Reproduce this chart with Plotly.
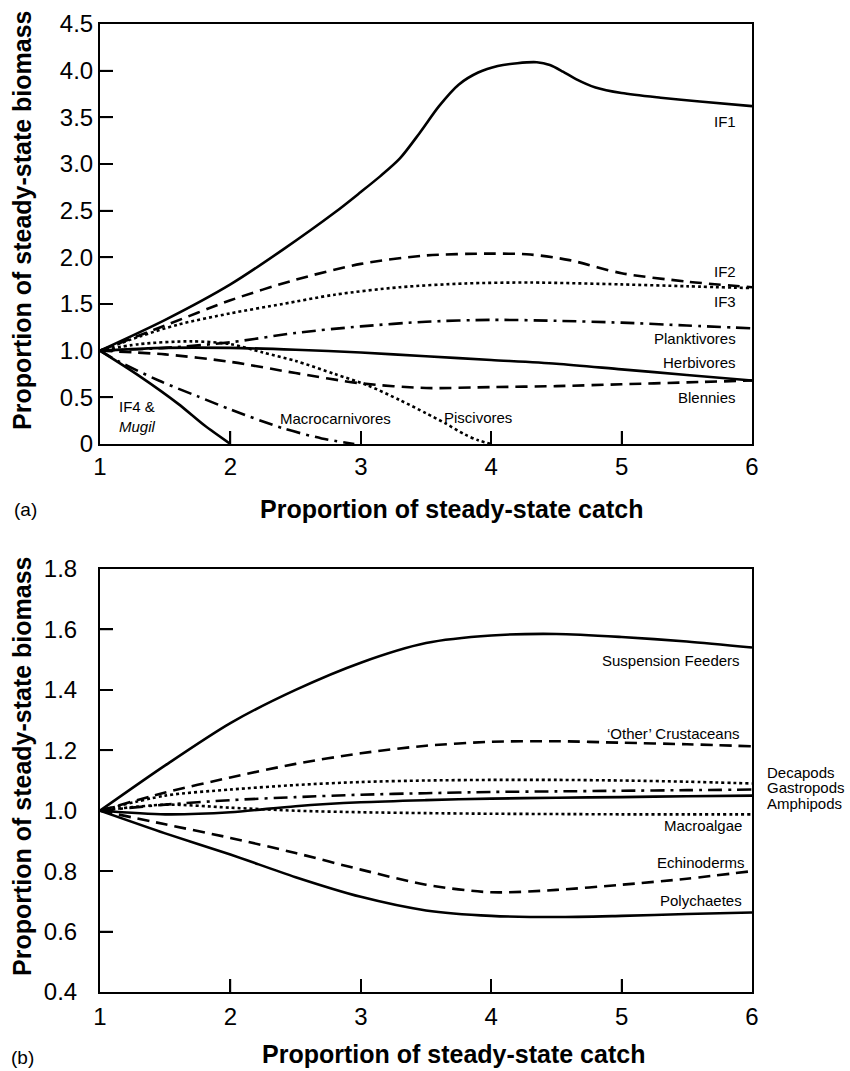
import plotly.graph_objects as go

W, H = 850, 1071

# ---------------- Panel (a) data ----------------
IF1_x = [1, 1.5, 2, 2.4, 2.8, 3.0, 3.15, 3.3, 3.45, 3.6, 3.75, 3.9, 4.05, 4.2, 4.35, 4.45, 4.55, 4.65, 4.8, 5.0, 5.3, 5.6, 6.0]
IF1_y = [1.0, 1.33, 1.71, 2.08, 2.48, 2.70, 2.87, 3.06, 3.33, 3.62, 3.85, 3.98, 4.05, 4.08, 4.09, 4.06, 3.99, 3.91, 3.82, 3.76, 3.71, 3.67, 3.62]

IF2_x = [1, 1.5, 2, 2.5, 3, 3.5, 4, 4.3, 4.6, 5.0, 5.5, 6.0]
IF2_y = [1.0, 1.27, 1.54, 1.76, 1.93, 2.02, 2.04, 2.03, 1.97, 1.83, 1.74, 1.68]

IF3_x = [1, 1.3, 1.6, 2, 2.4, 2.8, 3.3, 3.8, 4.3, 5.0, 5.5, 6.0]
IF3_y = [1.0, 1.15, 1.28, 1.4, 1.5, 1.6, 1.68, 1.72, 1.73, 1.71, 1.69, 1.67]

Plank_x = [1, 1.5, 2, 2.5, 3, 3.5, 4, 4.5, 5, 5.5, 6]
Plank_y = [1.0, 1.03, 1.09, 1.19, 1.26, 1.31, 1.33, 1.32, 1.30, 1.27, 1.24]

Herb_x = [1, 1.5, 2, 2.5, 3, 3.5, 4, 4.5, 5, 5.5, 6]
Herb_y = [1.0, 1.03, 1.03, 1.01, 0.98, 0.94, 0.9, 0.86, 0.8, 0.74, 0.68]

Blen_x = [1, 1.5, 2, 2.5, 3, 3.5, 4, 4.5, 5, 5.5, 6]
Blen_y = [1.0, 0.96, 0.88, 0.76, 0.65, 0.6, 0.61, 0.62, 0.64, 0.66, 0.68]

Pisc_x = [1, 1.3, 1.7, 2.0, 2.25, 2.5, 2.8, 3.05, 3.3, 3.5, 3.65, 3.8, 3.9, 4.0]
Pisc_y = [1.0, 1.07, 1.1, 1.07, 0.98, 0.89, 0.75, 0.63, 0.47, 0.33, 0.22, 0.1, 0.04, 0.0]

Macro_x = [1, 1.15, 1.45, 1.75, 2.0, 2.4, 2.7, 2.95]
Macro_y = [1.0, 0.88, 0.68, 0.51, 0.37, 0.17, 0.06, 0.0]

IF4_x = [1, 1.3, 1.6, 1.8, 2.0]
IF4_y = [1.0, 0.73, 0.43, 0.2, 0.0]

# ---------------- Panel (b) data ----------------
catch_b = [1, 1.5, 2, 2.5, 3, 3.5, 4, 4.5, 5, 5.5, 6]
SuspF = [1.0, 1.15, 1.29, 1.40, 1.49, 1.555, 1.58, 1.585, 1.575, 1.56, 1.54]
OthCr = [1.0, 1.06, 1.11, 1.155, 1.19, 1.215, 1.228, 1.23, 1.225, 1.22, 1.213]
Decap = [1.0, 1.05, 1.07, 1.085, 1.095, 1.1, 1.102, 1.102, 1.1, 1.096, 1.09]
Gastr = [1.0, 1.02, 1.035, 1.045, 1.053, 1.058, 1.062, 1.064, 1.066, 1.068, 1.07]
Amphi = [1.0, 0.988, 0.995, 1.015, 1.028, 1.035, 1.04, 1.043, 1.045, 1.048, 1.05]
Macroalg = [1.0, 1.02, 1.01, 1.0, 0.995, 0.992, 0.99, 0.989, 0.988, 0.988, 0.988]
Echin = [1.0, 0.955, 0.91, 0.86, 0.805, 0.755, 0.73, 0.738, 0.755, 0.775, 0.80]
Polych = [1.0, 0.925, 0.855, 0.78, 0.715, 0.67, 0.652, 0.648, 0.652, 0.658, 0.663]

x_ticks = [1, 2, 3, 4, 5, 6]
x_ticktext = ["1", "2", "3", "4", "5", "6"]
ya_ticks = [0, 0.5, 1.0, 1.5, 2.0, 2.5, 3.0, 3.5, 4.0, 4.5]
ya_ticktext = ["0", "0.5", "1.0", "1.5", "2.0", "2.5", "3.0", "3.5", "4.0", "4.5"]
yb_ticks = [0.4, 0.6, 0.8, 1.0, 1.2, 1.4, 1.6, 1.8]
yb_ticktext = ["0.4", "0.6", "0.8", "1.0", "1.2", "1.4", "1.6", "1.8"]

FONT = "Liberation Sans, Arial, sans-serif"
LW = 2.6
DASH = "12px,7px"
DOT = "3px,3px"
DASHDOT = "14px,6px,3px,6px"
TICKLEN = 13
TICKW = 1.6

fig = go.Figure()

def add(x, y, dash, xa, ya):
    fig.add_trace(go.Scatter(x=x, y=y, mode="lines", xaxis=xa, yaxis=ya,
                             line=dict(color="black", width=LW, dash=dash,
                                       shape="spline", smoothing=0.8),
                             showlegend=False, hoverinfo="skip"))

# panel (a)
add(IF1_x, IF1_y, "solid", "x", "y")
add(IF2_x, IF2_y, DASH, "x", "y")
add(IF3_x, IF3_y, DOT, "x", "y")
add(Plank_x, Plank_y, DASHDOT, "x", "y")
add(Herb_x, Herb_y, "solid", "x", "y")
add(Blen_x, Blen_y, DASH, "x", "y")
add(Pisc_x, Pisc_y, DOT, "x", "y")
add(Macro_x, Macro_y, DASHDOT, "x", "y")
add(IF4_x, IF4_y, "solid", "x", "y")

# panel (b)
add(catch_b, SuspF, "solid", "x2", "y2")
add(catch_b, OthCr, DASH, "x2", "y2")
add(catch_b, Decap, DOT, "x2", "y2")
add(catch_b, Gastr, DASHDOT, "x2", "y2")
add(catch_b, Amphi, "solid", "x2", "y2")
add(catch_b, Macroalg, DOT, "x2", "y2")
add(catch_b, Echin, DASH, "x2", "y2")
add(catch_b, Polych, "solid", "x2", "y2")

xdom = [100 / W, 752 / W]
ya_dom = [1 - 444 / H, 1 - 24 / H]
yb_dom = [1 - 992 / H, 1 - 569 / H]
xrange = [1, 6]
ya_range = [0, 4.5]
yb_range = [0.4, 1.8]

axis_common = dict(showline=True, linecolor="black", linewidth=2, mirror=True,
                   ticks="inside", ticklen=TICKLEN, tickwidth=TICKW, tickcolor="black",
                   showgrid=False, zeroline=False, automargin=True,
                   tickfont=dict(family=FONT, size=24, color="black"))

fig.update_layout(
    width=W, height=H, margin=dict(l=0, r=0, t=0, b=0, autoexpand=False),
    paper_bgcolor="white", plot_bgcolor="white",
    xaxis=dict(domain=xdom, range=xrange, anchor="y", tickvals=x_ticks,
               ticktext=x_ticktext, ticklabelstandoff=0, **axis_common),
    yaxis=dict(domain=ya_dom, range=ya_range, anchor="x", tickvals=ya_ticks,
               ticktext=ya_ticktext, ticklabelstandoff=0, **axis_common),
    xaxis2=dict(domain=xdom, range=xrange, anchor="y2", tickvals=x_ticks,
                ticktext=x_ticktext, ticklabelstandoff=2, **axis_common),
    yaxis2=dict(domain=yb_dom, range=yb_range, anchor="x2", tickvals=yb_ticks,
                ticktext=yb_ticktext, ticklabelstandoff=16, **axis_common),
)

# inside tick marks (drawn from the tick arrays, pixel length) to guarantee visibility
tick_line = dict(color="black", width=TICKW)
for xa, ya, yr, yt in (("x", "y", ya_range, ya_ticks), ("x2", "y2", yb_range, yb_ticks)):
    for v in x_ticks[1:-1]:
        fig.add_shape(type="line", xref=xa, yref=ya, ysizemode="pixel", yanchor=yr[0],
                      x0=v, x1=v, y0=0, y1=TICKLEN, line=tick_line, layer="above")
    for v in yt[1:-1]:
        fig.add_shape(type="line", xref=xa, yref=ya, xsizemode="pixel", xanchor=xrange[0],
                      x0=0, x1=TICKLEN, y0=v, y1=v, line=tick_line, layer="above")

def ann(text, px, py, xanchor="left", size=15, bold=False, angle=0):
    if bold:
        text = "<b>" + text + "</b>"
    fig.add_annotation(text=text, x=px / W, y=1 - py / H, xref="paper", yref="paper",
                       xanchor=xanchor, yanchor="middle", showarrow=False,
                       textangle=angle, align="left",
                       font=dict(family=FONT, size=size, color="black"))

# panel (a) labels
ann("IF1", 738, 121, "right")
ann("IF2", 738, 271, "right")
ann("IF3", 738, 301, "right")
ann("Planktivores", 738, 338, "right")
ann("Herbivores", 738, 362, "right")
ann("Blennies", 738, 397, "right")
ann("Piscivores", 442, 418, "left")
ann("Macrocarnivores", 278, 419, "left")
ann("IF4 &amp;<br><i>Mugil</i>", 117, 417, "left")

# panel (b) labels
ann("Suspension Feeders", 742, 660, "right")
ann("\u2018Other\u2019 Crustaceans", 742, 733, "right")
ann("Decapods", 765, 772, "left")
ann("Gastropods", 765, 787, "left")
ann("Amphipods", 765, 803, "left")
ann("Macroalgae", 744, 825, "right")
ann("Echinoderms", 747, 862, "right")
ann("Polychaetes", 744, 900, "right")

# axis titles and panel letters
ann("Proportion of steady-state biomass", 22, 220, "center", size=25, bold=True, angle=-90)
ann("Proportion of steady-state biomass", 22, 766, "center", size=25, bold=True, angle=-90)
ann("Proportion of steady-state catch", 451, 509, "center", size=25, bold=True)
ann("Proportion of steady-state catch", 453, 1054, "center", size=25, bold=True)
ann("(a)", 12, 509, "left", size=19)
ann("(b)", 9, 1057, "left", size=19)

fig.write_html("out.html")
